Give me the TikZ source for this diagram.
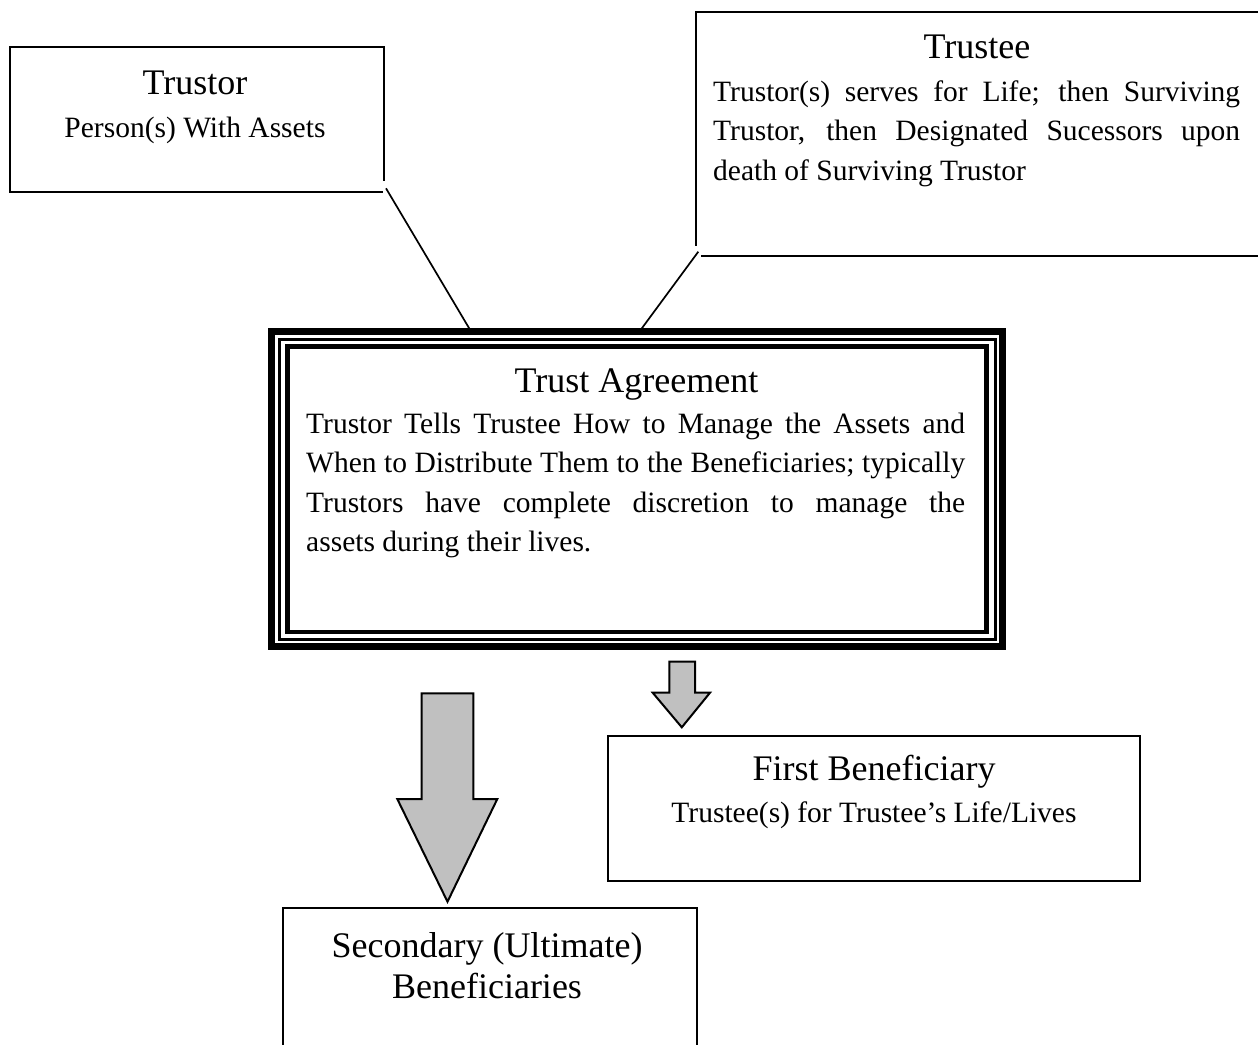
\documentclass[tikz,border=0pt]{standalone}
\usepackage{fontspec}
\setmainfont{Liberation Serif}
\usetikzlibrary{calc}
\definecolor{arrowgray}{HTML}{C0C0C0}
\tikzset{
  box/.style={draw=none, rectangle, inner sep=0pt, outer sep=0pt},
  frame/.style={line width=2pt, line cap=rect},
  framebox/.style={draw, line width=2pt, rectangle, inner sep=0pt, outer sep=0pt},
  ttl/.style={anchor=base, inner sep=0pt, font=\fontsize{36}{40}\selectfont},
  bdy/.style={anchor=base, inner sep=0pt, font=\fontsize{29.5}{39}\selectfont},
  bdyl/.style={anchor=base west, inner sep=0pt, font=\fontsize{29.5}{39}\selectfont},
  conn/.style={line width=1.7pt},
  blockarrow/.style={fill=arrowgray, draw=black, line width=2pt, line join=miter},
}
\begin{document}
\begin{tikzpicture}[x=1pt,y=-1pt]
\useasboundingbox (0,0) rectangle (1258,1044);

% ---------- Trustor ----------
\node[box, minimum width=374pt, minimum height=144.7pt] (trustor) at (197,119.35) {};
\draw[frame] ([yshift=12pt]trustor.south east) -- (trustor.north east) -- (trustor.north west)
  -- (trustor.south west) -- ([xshift=-2.5pt]trustor.south east);
\node[ttl] (trustorT) at (195,94) {Trustor};
\node[bdy] (trustorB) at (195,137.5) {Person(s) With Assets};

% ---------- Trustee ----------
\node[box, minimum width=562pt, minimum height=243.7pt] (trustee) at (977,133.85) {};
\draw[frame] (trustee.north east) -- (trustee.north west) -- ([yshift=10.7pt]trustee.south west);
\draw[frame] ([xshift=5.7pt]trustee.south west) -- (trustee.south east);
\node[ttl] (trusteeT) at (977,58.5) {Trustee};
\node[bdyl] (trusteeB1) at (713,101) {\makebox[527pt][s]{Trustor(s) serves for Life; then Surviving}};
\node[bdyl] (trusteeB2) at (713,140.5) {\makebox[527pt][s]{Trustor, then Designated Sucessors upon}};
\node[bdyl] (trusteeB3) at (713,180) {death of Surviving Trustor};

% ---------- Trust Agreement (triple border) ----------
\node[draw, line width=6.5pt, rectangle, inner sep=0pt, outer sep=0pt,
      minimum width=730.8pt, minimum height=314.8pt] (agree) at (637.1,489.1) {};
\draw[line width=3pt] ([xshift=7.5pt,yshift=-7.5pt]agree.north west) rectangle ([xshift=-7.5pt,yshift=7.5pt]agree.south east);
\draw[line width=4.5pt] ([xshift=16pt,yshift=-15pt]agree.north west) rectangle ([xshift=-16pt,yshift=14.5pt]agree.south east);
\node[ttl] (agreeT) at (636.5,392) {Trust Agreement};
\node[bdyl] (agreeB1) at (306,433.5) {\makebox[659pt][s]{Trustor Tells Trustee How to Manage the Assets and}};
\node[bdyl] (agreeB2) at (306,472.5) {\makebox[659pt][s]{When to Distribute Them to the Beneficiaries; typically}};
\node[bdyl] (agreeB3) at (306,512) {\makebox[659pt][s]{Trustors have complete discretion to manage the}};
\node[bdyl] (agreeB4) at (306,551.5) {assets during their lives.};

% ---------- connectors ----------
\draw[conn] ([xshift=2pt,yshift=3.4pt]trustor.south east) -- ([xshift=197.6pt,yshift=3.2pt]agree.north west);
\draw[conn] ([xshift=2.3pt,yshift=4pt]trustee.south west) -- ([xshift=370pt,yshift=3.2pt]agree.north west);

% ---------- block arrows ----------
\draw[blockarrow] (421.7,693.3) -- (473.3,693.3) -- (473.3,799) -- (497.3,799) -- (447.5,901.7)
  -- (397.3,799) -- (421.7,799) -- cycle;
\draw[blockarrow] (669.3,661.7) -- (695,661.7) -- (695,692.7) -- (710,692.7) -- (681.8,727.3)
  -- (652.7,692.7) -- (669.3,692.7) -- cycle;

% ---------- First Beneficiary ----------
\node[framebox, minimum width=532pt, minimum height=145pt] (first) at (874,808.5) {};
\node[ttl] (firstT) at (874,780.5) {First Beneficiary};
\node[bdy] (firstB) at (874,822.5) {Trustee(s) for Trustee’s Life/Lives};

% ---------- Secondary ----------
\node[box, minimum width=414pt, minimum height=135.7pt] (second) at (489.7,976.15) {};
\draw[frame] (second.south west) -- (second.north west) -- (second.north east) -- (second.south east);
\node[ttl] (secondT) at (487,957) {Secondary (Ultimate)};
\node[ttl] (secondB) at (487,998) {Beneficiaries};
\end{tikzpicture}
\end{document}
